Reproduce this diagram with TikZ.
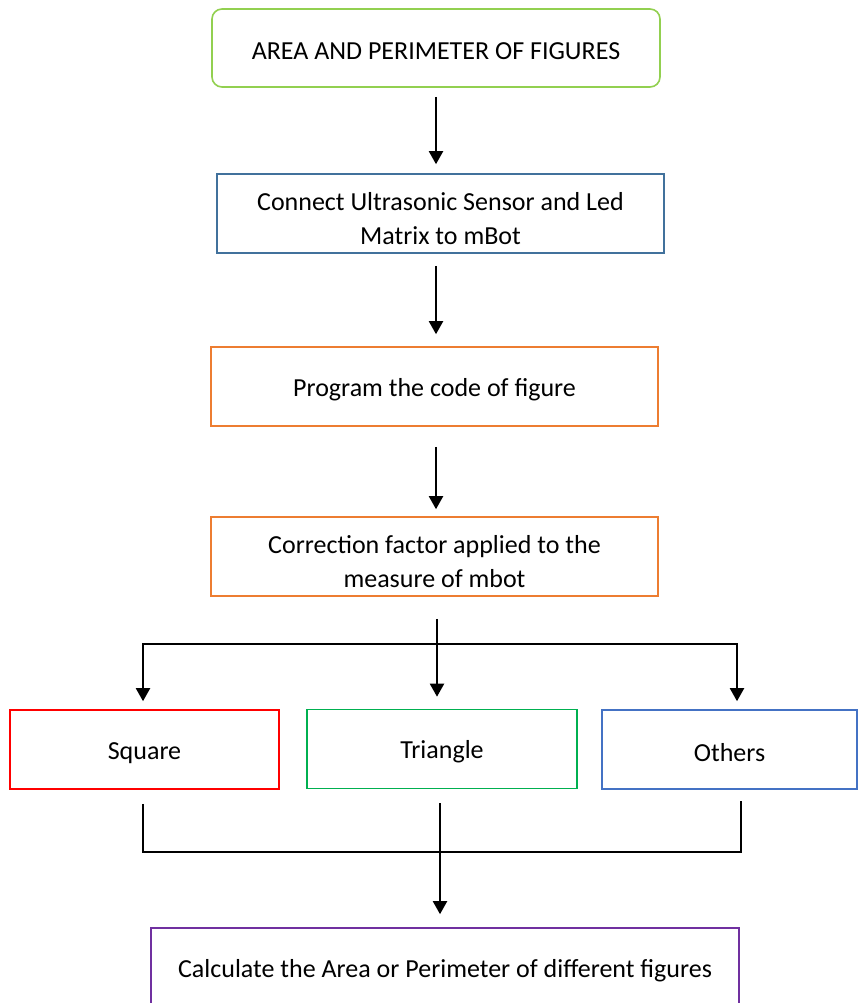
\documentclass[tikz,border=0pt]{standalone}
\usepackage{fontspec}
\setmainfont{Carlito}
\usetikzlibrary{arrows.meta,positioning}
\definecolor{titlegreen}{HTML}{92D050}
\definecolor{stepblue}{HTML}{41719C}
\definecolor{steporange}{HTML}{ED7D31}
\definecolor{squarered}{HTML}{FF0000}
\definecolor{trianglegreen}{HTML}{00B050}
\definecolor{othersblue}{HTML}{4472C4}
\definecolor{calcpurple}{HTML}{7030A0}
\newcommand{\toplift}{\rule{0pt}{29pt}}

\begin{document}
\begin{tikzpicture}[x=1pt, y=-1pt,
    box/.style={draw, line width=1.6pt, align=center, inner sep=0pt,
      minimum height=79pt, font=\fontsize{26}{34}\selectfont,
      execute at begin node={\rule{0pt}{24pt}}},
    flow/.style={-{Triangle[length=13pt, width=14pt]}, line width=2pt},
    link/.style={line width=2pt}]
  \useasboundingbox (0,0) rectangle (858,1003);
  \clip (0,0) rectangle (858,1003);

  % ── Main steps ──
  \node[box, titlegreen, text=black, rounded corners=10pt, minimum width=448pt,
    minimum height=78pt] (title) at (436,48) {AREA AND PERIMETER OF FIGURES};
  \node[box, stepblue, text=black, minimum width=447pt] (connect) at (440.5,213.5)
    {\toplift Connect Ultrasonic Sensor and Led\\Matrix to mBot};
  \node[box, steporange, text=black, minimum width=447pt] (program) at (434.5,386.5)
    {Program the code of figure};
  \node[box, steporange, text=black, minimum width=447pt] (correction) at (434.5,556.5)
    {\toplift Correction factor applied to the\\measure of mbot};

  % ── Figures ──
  \node[box, squarered, text=black, minimum width=269pt] (square) at (144.5,749.5) {Square};
  \node[box, trianglegreen, text=black, minimum width=270pt] (triangle) at (442,749) {Triangle};
  \node[box, othersblue, text=black, minimum width=255pt] (others) at (729.5,749.5) {Others};

  % ── Result ──
  \node[box, calcpurple, text=black, minimum width=588pt] (calc) at (445,967.5)
    {Calculate the Area or Perimeter of different figures};

  % Arrows between steps
  \draw[flow, shorten <=9pt, shorten >=9pt] (title.south) -- (title.south |- connect.north);
  \draw[flow, shorten <=12pt, shorten >=12pt] (title.south |- connect.south) -- (title.south |- program.north);
  \draw[flow, shorten <=20pt, shorten >=7pt] (title.south |- program.south) -- (title.south |- correction.north);

  % Split to the figures
  \coordinate (split) at (437,644);
  \draw[link, shorten <=22pt] (split |- correction.south) -- (split);
  \draw[flow, shorten >=12pt] (split) -- (split |- triangle.north);
  \draw[flow, shorten >=8pt] (split) -| ([xshift=-1.5pt]square.north);
  \draw[flow, shorten >=8pt] (split) -| ([xshift=7.5pt]others.north);

  % Join to the result
  \coordinate (join) at (440,852);
  \draw[link, shorten <=14pt, shorten >=11pt] ([xshift=-1.5pt]square.south) |- (join) -| ([xshift=11.5pt]others.south);
  \draw[link, shorten <=14pt] (join |- triangle.south) -- (join);
  \draw[flow, shorten >=13pt] (join) -- (join |- calc.north);
\end{tikzpicture}
\end{document}
